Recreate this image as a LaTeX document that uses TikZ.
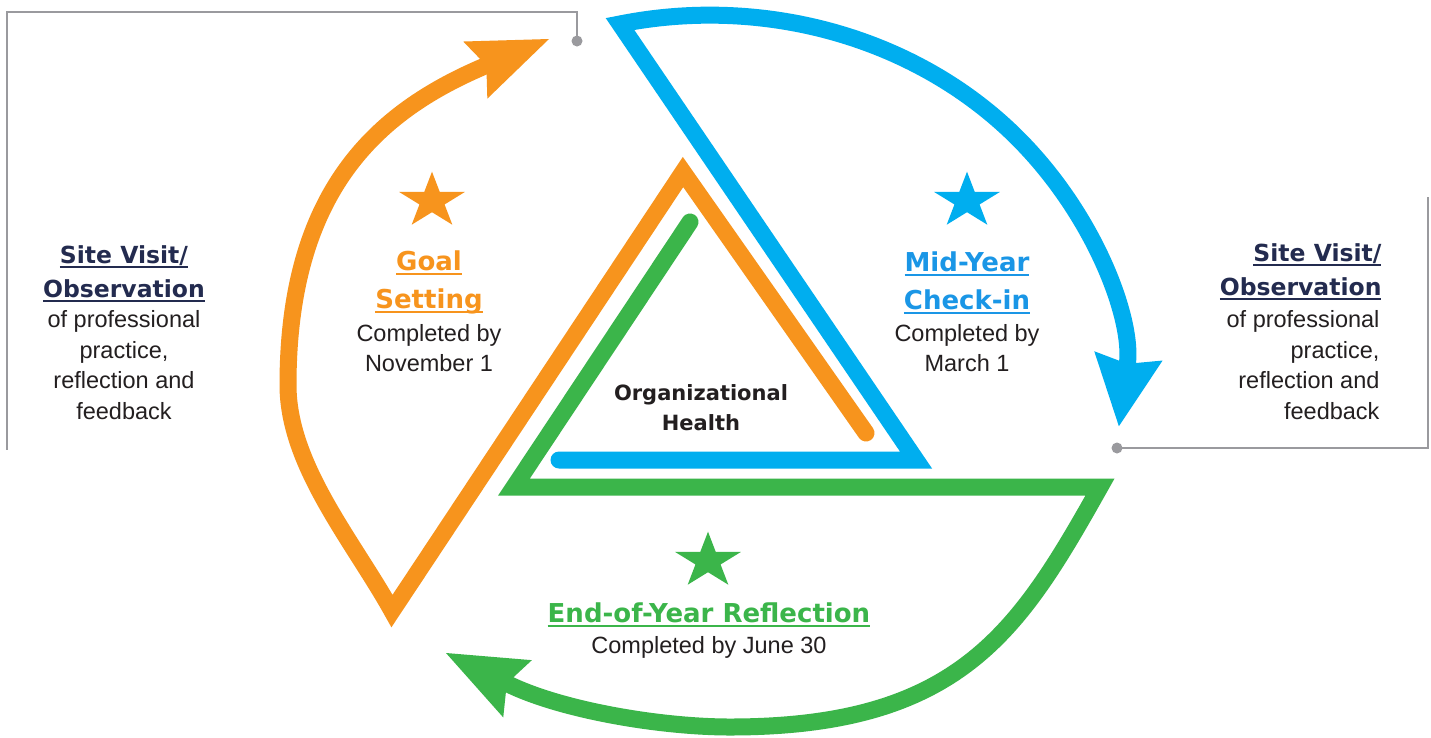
\documentclass[tikz,border=0pt]{standalone}
\usepackage{fontspec}
\setmainfont{Liberation Sans}
\newfontfamily\hdface{DejaVu Sans}
\usetikzlibrary{arrows.meta,shapes.geometric,positioning}

\definecolor{cycorange}{HTML}{F7941D}
\definecolor{cycblue}{HTML}{00AEEF}
\definecolor{cycgreen}{HTML}{3BB54A}
\definecolor{bluetxt}{HTML}{1A96E6}
\definecolor{navy}{HTML}{232B4F}
\definecolor{ink}{HTML}{231F20}
\definecolor{linegray}{HTML}{9A9A9E}

% underlined heading word
\newcommand{\hul}[1]{\setbox0\hbox{#1}\rlap{\rule[-5pt]{\wd0}{2.4pt}}\box0}

\tikzset{
  cyc/.style={line width=17pt, line cap=round, line join=miter},
  star5/.style={star, star points=5, star point ratio=2.618, minimum size=58.6pt,
    inner sep=0pt, draw=none, xscale=1.18},
  hd/.style={font=\hdface\bfseries\fontsize{26}{38}\selectfont, align=center, anchor=base},
  bd/.style={font=\fontsize{23.5}{29.5}\selectfont, text=ink, align=center, anchor=base},
  sidehd/.style={font=\hdface\bfseries\fontsize{23.5}{34}\selectfont, text=navy, anchor=base},
  sidebd/.style={font=\fontsize{23.5}{30.5}\selectfont, text=ink, anchor=base},
  conn/.style={draw=linegray, line width=2.5pt},
}

\begin{document}
\begin{tikzpicture}[x=1pt, y=-1pt]
\useasboundingbox[fill=white] (0,0) rectangle (1431,737);
% Draw gray connectors
\coordinate (dotL) at (577,41);
\coordinate (endL) at (7,450);
\coordinate (dotR) at (1117,448);
\coordinate (endR) at (1428,197);
\draw[conn] (dotL) -- ++(0,-29) -| (endL);
\draw[conn] (dotR) -| (endR);
\fill[linegray] (dotL) circle[radius=5.5pt];
\fill[linegray] (dotR) circle[radius=5.5pt];
% Draw cycle arrows
\draw[cyc, cycorange, -{Stealth[length=80pt,width=62pt,inset=12pt,line width=0pt]}]
  (866,433) -- (683,172) -- (392,611)
  .. controls (353,541) and (288,465) .. (288,385)
  .. controls (288,185) and (383,109) .. (549,39);
\draw[cyc, cycblue, -{Stealth[length=71pt,width=69pt,inset=8pt,line width=0pt]}]
  (559,460) -- (916,460) -- (620,24)
  arc[start angle=-102.6, end angle=6.9, x radius=412, y radius=367];
\draw[cyc, cycgreen, -{Stealth[length=80pt,width=64pt,inset=12pt,line width=0pt]}]
  (690,222) -- (514,487) -- (1100,487)
  .. controls (1019,631) and (960,727) .. (730,727)
  .. controls (660,727) and (560,710) .. (446,653);
% Draw stars
\foreach \n/\x/\y/\c in {starG/432/201/cycorange, starM/967/201/cycblue, starE/708/561/cycgreen}
  \node[star5, fill=\c] (\n) at (\x,\y) {};
% Draw labels (base = last line)
\node[hd, text=cycorange] (goalhd) at (429,308) {\hul{Goal}\\\hul{Setting}};
\node[bd] (goaldt) at (429,371) {Completed by\\November 1};
\node[hd, text=bluetxt] (midhd) at (967,309) {\hul{Mid-Year}\\\hul{Check-in}};
\node[bd] (middt) at (967,371) {Completed by\\March 1};
\node[hd, text=cycgreen] (endhd) at (709,622) {\hul{End-of-Year Reflection}};
\node[bd] (enddt) at (709,653) {Completed by June 30};
\node[hd, text=ink, font=\hdface\bfseries\fontsize{21}{30}\selectfont] (org) at (701,430) {Organizational\\Health};
\node[sidehd, align=center] (visitL) at (124,297) {\hul{Site Visit/}\\\hul{Observation}};
\node[sidebd, align=center] (noteL) at (124,419) {of professional\\practice,\\reflection and\\feedback};
\node[sidehd, align=right, anchor=base east] (visitR) at (1385,295) {\hul{Site Visit/}\\\hul{Observation}};
\node[sidebd, align=right, anchor=base east] (noteR) at (1383,419) {of professional\\practice,\\reflection and\\feedback};
\end{tikzpicture}
\end{document}
